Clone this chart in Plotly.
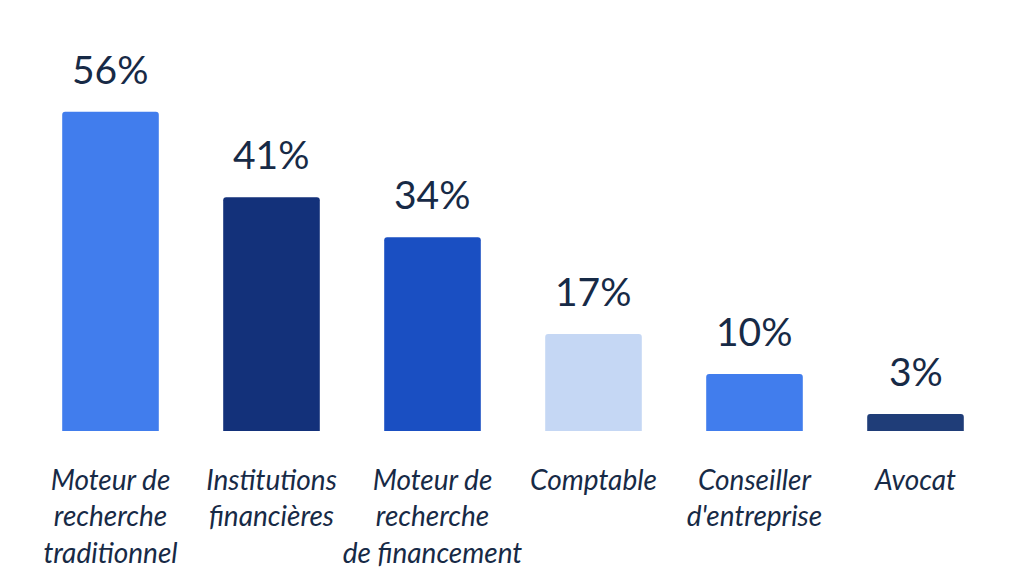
import plotly.graph_objects as go

categories = ["Moteur de<br>recherche<br>traditionnel", "Institutions<br>financières",
              "Moteur de<br>recherche<br>de financement", "Comptable",
              "Conseiller<br>d'entreprise", "Avocat"]
values = [56, 41, 34, 17, 10, 3]
value_labels = ["56%", "41%", "34%", "17%", "10%", "3%"]
colors = ["#417DED", "#13317A", "#1A4FC2", "#C5D7F4", "#417DED", "#1F3D78"]

text_color = "#172A46"

fig = go.Figure(go.Bar(
    x=categories, y=values,
    marker=dict(color=colors, line=dict(width=0), cornerradius=3),
    width=0.6,
    hoverinfo="skip",
))

for c, v, t in zip(categories, values, value_labels):
    fig.add_annotation(x=c, y=v, text=t, showarrow=False, yanchor="bottom",
                       yshift=18, font=dict(family="Lato", size=39, color=text_color))

fig.update_layout(
    width=1024, height=579,
    margin=dict(l=22, r=36, t=24, b=156),
    paper_bgcolor="white", plot_bgcolor="white",
    showlegend=False,
    xaxis=dict(showgrid=False, showline=False, zeroline=False, ticks="",
               tickfont=dict(family="Lato", size=28, color=text_color, style="italic"),
               ticklabelstandoff=30),
    yaxis=dict(visible=False, range=[0, 70]),
)

fig.write_html("out.html")
